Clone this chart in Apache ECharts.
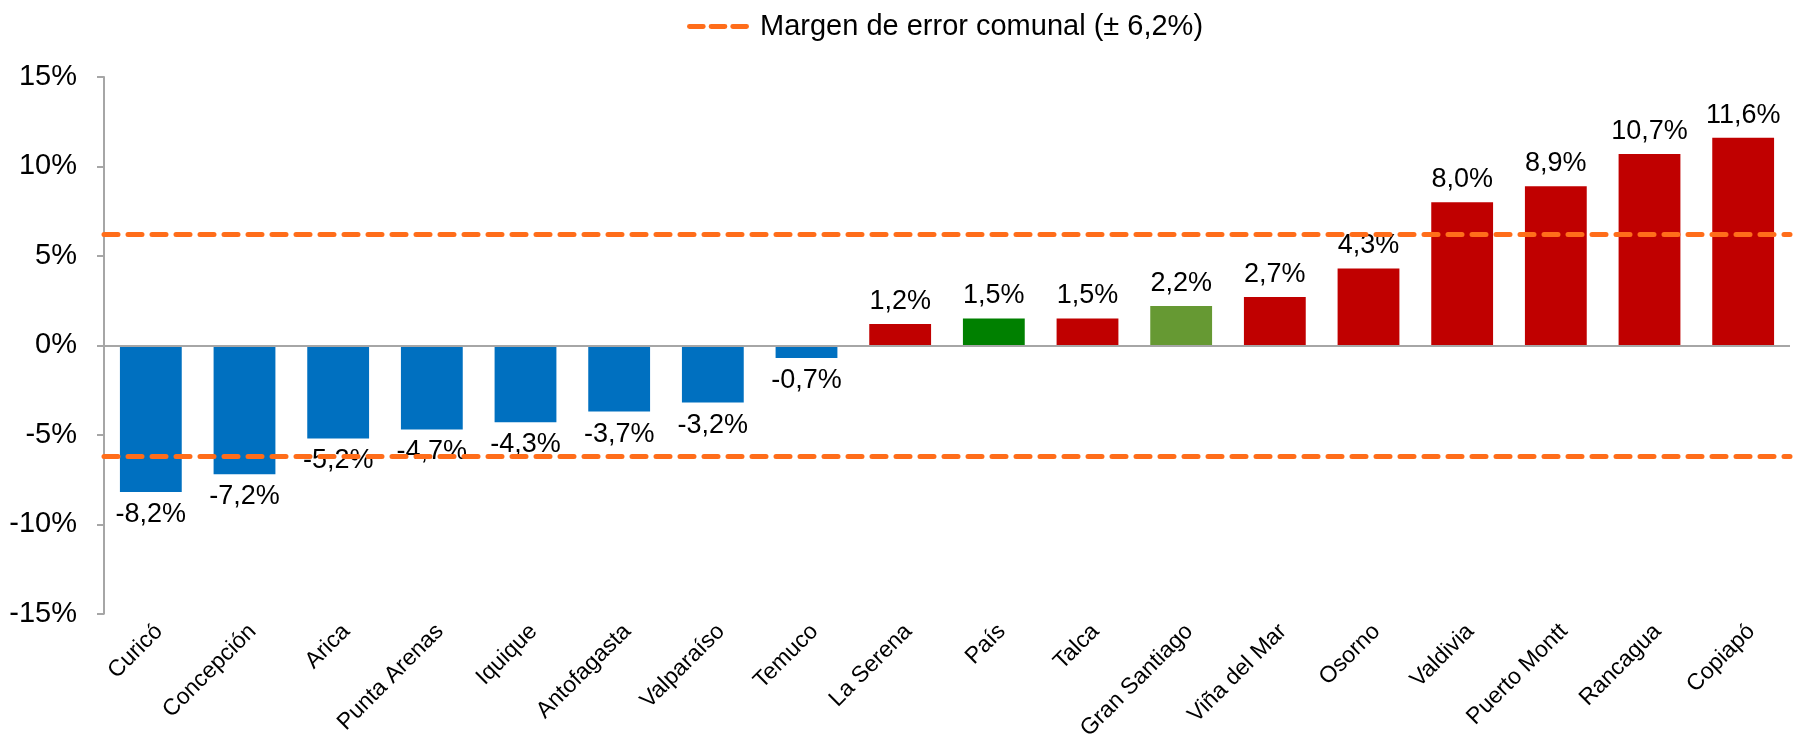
<!DOCTYPE html>
<html>
<head>
<meta charset="utf-8">
<script src="https://cdn.jsdelivr.net/npm/echarts@6/dist/echarts.min.js"></script>
<style>
    html, body { margin: 0; padding: 0; background: #fff; }
    #chart { width: 1796px; height: 743px; }
</style>
</head>
<body>
<div id="chart"></div>
<script>
// datos
var categorias = ['Curicó', 'Concepción', 'Arica', 'Punta Arenas', 'Iquique', 'Antofagasta', 'Valparaíso', 'Temuco',
    'La Serena', 'País', 'Talca', 'Gran Santiago', 'Viña del Mar', 'Osorno', 'Valdivia', 'Puerto Montt', 'Rancagua', 'Copiapó'];
var valores = [-8.2, -7.2, -5.2, -4.7, -4.3, -3.7, -3.2, -0.7, 1.2, 1.5, 1.5, 2.2, 2.7, 4.3, 8.0, 8.9, 10.7, 11.6];
var colores = ['#0070C0', '#0070C0', '#0070C0', '#0070C0', '#0070C0', '#0070C0', '#0070C0', '#0070C0',
    '#C00000', '#008000', '#C00000', '#669933', '#C00000', '#C00000', '#C00000', '#C00000', '#C00000', '#C00000'];
var margenError = 6.2;
var ticksY = [-15, -10, -5, 0, 5, 10, 15];
var nombreMargen = 'Margen de error comunal (± 6,2%)';

var fuente = '"Liberation Sans", Arial, sans-serif';

function fmtPct(v) {
    return v.toFixed(1).replace('.', ',') + '%';
}

var barData = [];
for (var i = 0; i < valores.length; i++) {
    barData.push({
        value: valores[i],
        itemStyle: { color: colores[i] },
        label: { position: valores[i] < 0 ? 'bottom' : 'top' }
    });
}

var myChart = echarts.init(document.getElementById('chart'));
var option = {
    animation: false,
    textStyle: { fontFamily: fuente },
    legend: {
        top: 7,
        left: 682,
        data: [nombreMargen],
        icon: 'path://M2,0 h14 a2,2 0 0 1 0,5 h-14 a2,2 0 0 1 0,-5z M24,0 h14 a2,2 0 0 1 0,5 h-14 a2,2 0 0 1 0,-5z M46,0 h14 a2,2 0 0 1 0,5 h-14 a2,2 0 0 1 0,-5z',
        itemWidth: 62,
        itemHeight: 6,
        itemGap: 10,
        textStyle: { fontSize: 29, color: '#000', fontFamily: fuente, padding: [0, 0, 0, 6] }
    },
    grid: {
        left: 104,
        right: 6,
        top: 77,
        bottom: 125,
        containLabel: false
    },
    xAxis: {
        type: 'category',
        data: categorias,
        axisLine: { show: false, onZero: false },
        axisTick: { show: false },
        axisLabel: {
            interval: 0,
            rotate: 45,
            margin: 6,
            verticalAlign: 'top',
            fontSize: 23,
            color: '#000',
            fontFamily: fuente
        }
    },
    yAxis: {
        type: 'value',
        min: -15,
        max: 15,
        interval: 5,
        axisLine: { show: true, lineStyle: { color: '#A6A6A6', width: 2 } },
        axisTick: { show: true, length: 7, lineStyle: { color: '#A6A6A6', width: 2 } },
        splitLine: { show: false },
        axisLabel: {
            margin: 27,
            fontSize: 29,
            color: '#000',
            fontFamily: fuente,
            formatter: function (v) { return v + '%'; }
        }
    },
    series: [
        {
            name: 'valores',
            type: 'bar',
            barWidth: '66%',
            data: barData,
            label: {
                show: true,
                distance: 9,
                fontSize: 27,
                color: '#000',
                fontFamily: fuente,
                formatter: function (p) { return fmtPct(p.value); }
            },
            markLine: {
                silent: true,
                symbol: 'none',
                label: { show: false },
                lineStyle: { color: '#A6A6A6', width: 2, type: 'solid' },
                data: [{ yAxis: 0 }]
            },
            z: 2
        },
        {
            name: nombreMargen,
            type: 'line',
            data: [],
            itemStyle: { color: '#FF6D1A' },
            markLine: {
                silent: true,
                symbol: 'none',
                label: { show: false },
                lineStyle: { color: '#FF6D1A', width: 5, type: [14, 10], cap: 'round' },
                data: [{ yAxis: margenError }, { yAxis: -margenError }]
            },
            z: 3
        }
    ]
};
myChart.setOption(option);
</script>
</body>
</html>
